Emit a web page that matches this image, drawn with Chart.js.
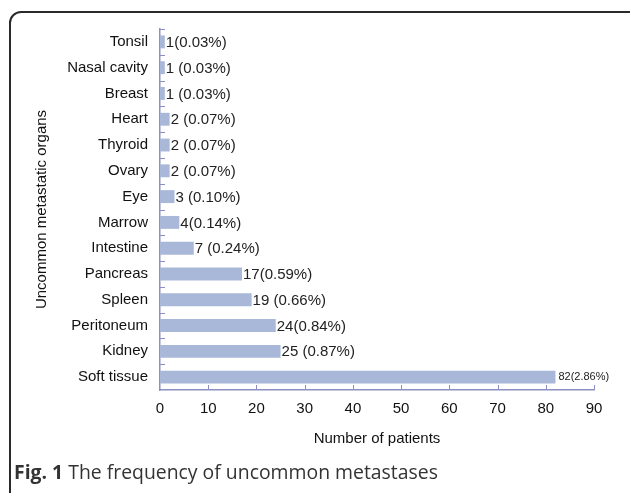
<!DOCTYPE html>
<html>
<head>
<meta charset="utf-8">
<script src="https://cdn.jsdelivr.net/npm/chart.js@4/dist/chart.umd.min.js"></script>
<style>
  html, body { margin: 0; padding: 0; background: #fff; }
  body { width: 630px; height: 493px; position: relative; overflow: hidden; }
  #frame {
    position: absolute; left: 9px; top: 11px; width: 640px; height: 520px;
    border: 2px solid #2a2a2a; border-radius: 12px; box-sizing: border-box;
  }
  #wrap { position: absolute; left: 0; top: 0; width: 630px; height: 460px; }
  #caption {
    position: absolute; left: 14px; top: 458px;
    font-family: "Open Sans", sans-serif; font-size: 19.4px; color: #333;
    white-space: nowrap;
  }
  #caption b { color: #333; }
</style>
</head>
<body>
<div id="frame"></div>
<div id="wrap"><canvas id="organChart" width="630" height="460"></canvas></div>
<div id="caption"><b>Fig. 1</b> The frequency of uncommon metastases</div>

<script>
// Uncommon metastatic organs - horizontal bar chart

// ---- data ----
const organs = ['Tonsil', 'Nasal cavity', 'Breast', 'Heart', 'Thyroid', 'Ovary', 'Eye',
                'Marrow', 'Intestine', 'Pancreas', 'Spleen', 'Peritoneum', 'Kidney', 'Soft tissue'];
const patients = [1, 1, 1, 2, 2, 2, 3, 4, 7, 17, 19, 24, 25, 82];
const barLabels = ['1(0.03%)', '1 (0.03%)', '1 (0.03%)', '2 (0.07%)', '2 (0.07%)', '2 (0.07%)', '3 (0.10%)',
                   '4(0.14%)', '7 (0.24%)', '17(0.59%)', '19 (0.66%)', '24(0.84%)', '25 (0.87%)', '82(2.86%)'];
const xTicks = [0, 10, 20, 30, 40, 50, 60, 70, 80, 90];

const axisColor = '#8c8fc4';
const barColor = 'rgb(169,183,217)';
const font = '"Liberation Sans", Arial, sans-serif';

// short inward tick marks on both axes
const innerTicks = {
    id: 'innerTicks',
    afterDraw(chart) {
        const ctx = chart.ctx;
        const x = chart.scales.x, y = chart.scales.y;
        ctx.save();
        ctx.strokeStyle = axisColor;
        ctx.lineWidth = 1;
        ctx.beginPath();
        xTicks.forEach(v => {
            if (v === 0) return;
            const px = Math.round(x.getPixelForValue(v)) + 0.5;
            ctx.moveTo(px, y.bottom);
            ctx.lineTo(px, y.bottom - 5);
        });
        const half = (y.getPixelForValue(1) - y.getPixelForValue(0)) / 2;
        for (let i = 0; i < organs.length; i++) {
            const py = Math.round(y.getPixelForValue(i) - half) + 0.5;
            ctx.moveTo(x.left, py);
            ctx.lineTo(x.left + 5, py);
        }
        ctx.stroke();
        ctx.restore();
    }
};

// value labels at the end of each bar
const valueLabels = {
    id: 'valueLabels',
    afterDatasetsDraw(chart) {
        const ctx = chart.ctx;
        const meta = chart.getDatasetMeta(0);
        ctx.save();
        ctx.fillStyle = '#222';
        ctx.textBaseline = 'middle';
        meta.data.forEach((bar, i) => {
            const small = i === organs.length - 1;
            ctx.font = (small ? '11px ' : '15px ') + font;
            ctx.fillText(barLabels[i], bar.x + (small ? 3 : 1), bar.y + (small ? 0 : 1));
        });
        ctx.restore();
    }
};

new Chart(document.getElementById('organChart'), {
    type: 'bar',
    data: {
        labels: organs,
        datasets: [{
            data: patients,
            backgroundColor: barColor,
            borderWidth: 0,
            categoryPercentage: 1,
            barPercentage: 0.5
        }]
    },
    options: {
        indexAxis: 'y',
        responsive: false,
        animation: false,
        layout: { padding: { left: 0, top: 29, right: 36, bottom: 0 } },
        plugins: { legend: { display: false }, tooltip: { enabled: false } },
        scales: {
            x: {
                min: 0, max: 90,
                afterBuildTicks: s => { s.ticks = xTicks.map(v => ({ value: v })); },
                afterFit: s => { s.height = 70; },
                grid: { display: false, drawTicks: false },
                border: { display: true, color: axisColor, width: 1.5 },
                ticks: { color: '#111', font: { family: font, size: 15 }, padding: 10 },
                title: {
                    display: true, text: 'Number of patients', color: '#111',
                    font: { family: font, size: 15 }, padding: { top: 0, bottom: 12 }
                }
            },
            y: {
                afterFit: s => { s.width = 160; },
                grid: { display: false, drawTicks: false },
                border: { display: true, color: axisColor, width: 1.5 },
                ticks: { color: '#111', font: { family: font, size: 15 }, padding: 12 },
                title: {
                    display: true, text: 'Uncommon metastatic organs', color: '#111',
                    font: { family: font, size: 15 }, padding: { top: 33, bottom: 0 }
                }
            }
        }
    },
    plugins: [innerTicks, valueLabels]
});
</script>
</body>
</html>
